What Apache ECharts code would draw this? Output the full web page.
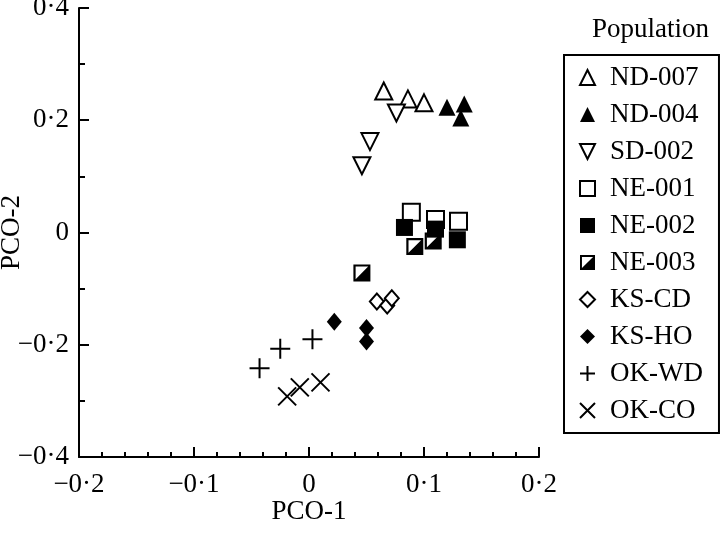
<!DOCTYPE html>
<html>
<head>
<meta charset="utf-8">
<script src="https://cdn.jsdelivr.net/npm/echarts@6/dist/echarts.min.js"></script>
<style>
  html, body { margin: 0; padding: 0; background: #fff; }
  #main { width: 720px; height: 535px; }
</style>
</head>
<body>
<div id="main"></div>
<script>
// populations, in legend order
var populations = ['ND-007', 'ND-004', 'SD-002', 'NE-001', 'NE-002', 'NE-003', 'KS-CD', 'KS-HO', 'OK-WD', 'OK-CO'];

// [PCO-1, PCO-2] per population
var nd007 = [[0.065, 0.252], [0.086, 0.238], [0.100, 0.231]];
var nd004 = [[0.120, 0.223], [0.135, 0.229], [0.132, 0.204]];
var sd002 = [[0.076, 0.213], [0.053, 0.162], [0.046, 0.119]];
var ne001 = [[0.089, 0.036], [0.110, 0.023], [0.130, 0.020]];
var ne002 = [[0.083, 0.009], [0.110, 0.006], [0.129, -0.013]];
var ne003 = [[0.092, -0.025], [0.108, -0.015], [0.046, -0.072]];
var kscd = [[0.059, -0.123], [0.068, -0.130], [0.072, -0.117]];
var ksho = [[0.022, -0.159], [0.050, -0.170], [0.050, -0.194]];
var okwd = [[-0.043, -0.242], [-0.025, -0.207], [0.003, -0.190]];
var okco = [[-0.019, -0.292], [-0.008, -0.276], [0.010, -0.267]];

// tick labels
var xTickValues = [-0.2, -0.1, 0, 0.1, 0.2];
var xTickLabels = ['\u22120\u00b72', '\u22120\u00b71', '0', '0\u00b71', '0\u00b72'];
var yTickValues = [-0.4, -0.2, 0, 0.2, 0.4];
var yTickLabels = ['\u22120\u00b74', '\u22120\u00b72', '0', '0\u00b72', '0\u00b74'];

var FONT = "'Liberation Serif', 'DejaVu Serif', serif";

var tickLabel = function (values, labels) {
    return function (v) {
        for (var i = 0; i < values.length; i++) {
            if (Math.abs(values[i] - v) < 1e-6) return labels[i];
        }
        return '';
    };
};

// symbols
var downTri = 'path://M0 0 L100 0 L50 100 Z';
var halfSquare = 'path://M0 0 L100 0 L100 100 L0 100 Z M13 13 L13 87 L87 87 L87 13 Z M87 13 L87 87 L13 87 Z';
var plus = 'path://M0 50 L100 50 M50 0 L50 100';
var cross = 'path://M0 0 L100 100 M100 0 L0 100';

var openStyle = {color: '#fff', borderColor: '#000', borderWidth: 2, opacity: 1};
var fillStyle = {color: '#000', borderColor: '#000', borderWidth: 0, opacity: 1};
var lineStyle = {color: '#000', borderColor: '#000', borderWidth: 2, opacity: 1};

var mk = function (name, data, symbol, size, style) {
    return {
        name: name,
        type: 'scatter',
        data: data,
        symbol: symbol,
        symbolSize: size,
        symbolKeepAspect: true,
        itemStyle: style,
        emphasis: {disabled: true}
    };
};

var myChart = echarts.init(document.getElementById('main'));
myChart.setOption({
    animation: false,
    backgroundColor: '#fff',
    title: {
        text: 'Population',
        left: 587,
        top: 11,
        textStyle: {fontFamily: FONT, fontSize: 27, fontWeight: 'normal', color: '#000'}
    },
    legend: {
        data: populations,
        orient: 'vertical',
        left: 564,
        top: 55,
        borderColor: '#000',
        borderWidth: 2,
        padding: [9, 16, 9, 15],
        itemGap: 10,
        itemWidth: 15,
        itemHeight: 15,
        selectedMode: false,
        textStyle: {fontFamily: FONT, fontSize: 27, color: '#000', padding: [0, 0, 0, 10]}
    },
    grid: {left: 79, right: 181, top: 8, bottom: 78, outerBoundsMode: 'none', containLabel: false},
    xAxis: {
        type: 'value',
        min: -0.2,
        max: 0.2,
        interval: 0.1,
        name: 'PCO-1',
        nameLocation: 'middle',
        nameGap: 41,
        nameMoveOverlap: false,
        nameTextStyle: {fontFamily: FONT, fontSize: 27, color: '#000'},
        axisLine: {onZero: false, lineStyle: {color: '#000', width: 2}},
        axisTick: {inside: true, length: 10, lineStyle: {color: '#000', width: 2}},
        minorTick: {show: true, splitNumber: 5, length: 5, lineStyle: {color: '#000', width: 2}},
        splitLine: {show: false},
        axisLabel: {
            margin: 14,
            fontFamily: FONT, fontSize: 27, color: '#000',
            formatter: tickLabel(xTickValues, xTickLabels)
        }
    },
    yAxis: {
        type: 'value',
        min: -0.4,
        max: 0.4,
        interval: 0.2,
        name: 'PCO-2',
        nameLocation: 'middle',
        nameGap: 54,
        nameMoveOverlap: false,
        nameTextStyle: {fontFamily: FONT, fontSize: 27, color: '#000'},
        axisLine: {show: true, onZero: false, lineStyle: {color: '#000', width: 2}},
        axisTick: {show: true, inside: true, length: 10, lineStyle: {color: '#000', width: 2}},
        minorTick: {show: true, splitNumber: 2, length: 6, lineStyle: {color: '#000', width: 2}},
        splitLine: {show: false},
        axisLabel: {
            margin: 10,
            fontFamily: FONT, fontSize: 27, color: '#000',
            formatter: tickLabel(yTickValues, yTickLabels)
        }
    },
    series: [
        mk('ND-007', nd007, 'triangle', 17, openStyle),
        mk('ND-004', nd004, 'triangle', 17, fillStyle),
        mk('SD-002', sd002, downTri, 17, openStyle),
        mk('NE-001', ne001, 'rect', 17, openStyle),
        mk('NE-002', ne002, 'rect', 17, fillStyle),
        mk('NE-003', ne003, halfSquare, 17, fillStyle),
        mk('KS-CD', kscd, 'diamond', [14, 16], openStyle),
        mk('KS-HO', ksho, 'diamond', [15, 18], fillStyle),
        mk('OK-WD', okwd, plus, 20, lineStyle),
        mk('OK-CO', okco, cross, 18, lineStyle)
    ]
});
</script>
</body>
</html>
